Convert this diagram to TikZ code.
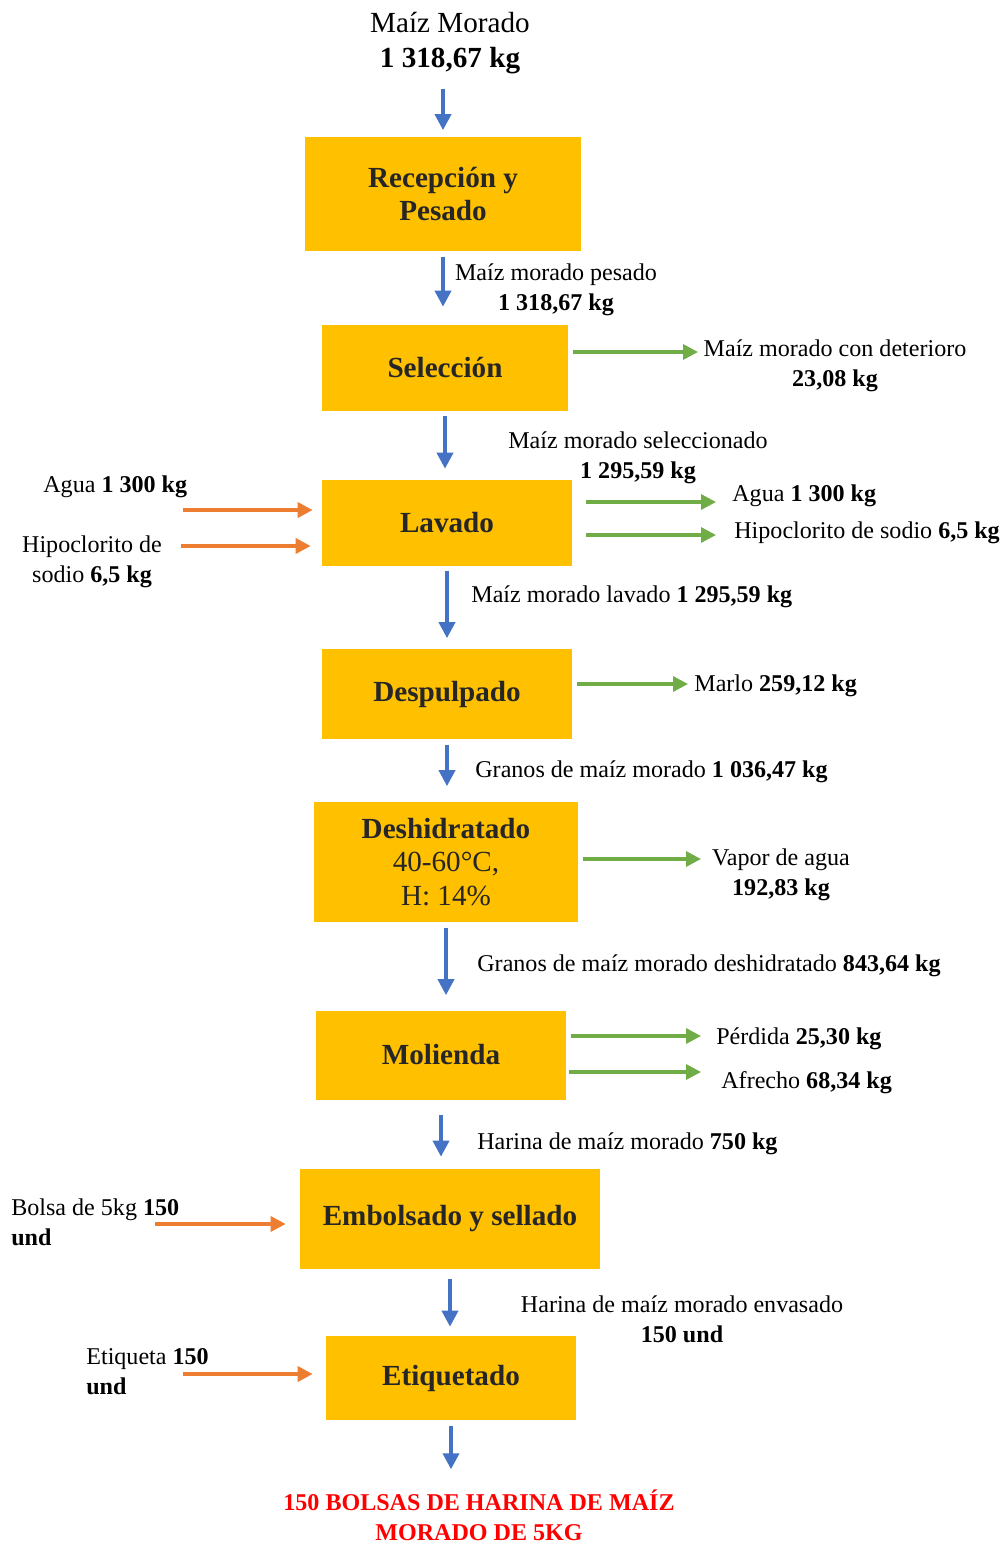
\documentclass[tikz,border=0pt]{standalone}
\usepackage{fontspec}
\setmainfont{Liberation Serif}
\usetikzlibrary{arrows.meta}
\definecolor{boxfill}{HTML}{FFC000}
\definecolor{boxtext}{HTML}{262626}
\definecolor{flowblue}{HTML}{4472C4}
\definecolor{inorange}{HTML}{ED7D31}
\definecolor{outgreen}{HTML}{70AD47}
\definecolor{prodred}{HTML}{FF0000}
\tikzset{
  stage/.style={fill=boxfill, text=boxtext, inner sep=0pt, align=center,
    font=\bfseries\fontsize{16.6}{19}\selectfont},
  lbl/.style={inner sep=0pt, align=center, yshift=-0.06cm, font=\fontsize{13.7}{17}\selectfont},
  mainflow/.style={flowblue, line width=2.1pt, -{Triangle[length=0.32cm,width=0.32cm]}},
  inflow/.style={inorange, line width=2pt, -{Triangle[length=0.3cm,width=0.3cm]}},
  outflow/.style={outgreen, line width=1.9pt, -{Triangle[length=0.3cm,width=0.3cm]}}
}
\begin{document}
\begin{tikzpicture}[x=0.02cm, y=-0.02cm]
    \useasboundingbox (0,0) rectangle (1003,1544);

    % 1. Process stages
    \node[stage, minimum width=5.52cm, minimum height=2.3cm] (rec) at (443,194) {Recepción y\\Pesado};
    \node[stage, minimum width=4.92cm, minimum height=1.72cm] (sel) at (445,368) {Selección};
    \node[stage, minimum width=5cm, minimum height=1.72cm] (lav) at (447,523) {Lavado};
    \node[stage, minimum width=5cm, minimum height=1.82cm] (desp) at (447,694) {Despulpado};
    \node[stage, minimum width=5.28cm, minimum height=2.42cm] (desh) at (446,862)
        {Deshidratado\\\mdseries 40-60°C,\\\mdseries H: 14\%};
    \node[stage, minimum width=5cm, minimum height=1.78cm] (mol) at (441,1055) {Molienda};
    \node[stage, minimum width=6cm, minimum height=2cm] (emb) at (450,1219) {Embolsado y sellado};
    \node[stage, minimum width=5cm, minimum height=1.68cm] (eti) at (451,1378) {Etiquetado};

    % 2. Raw material and final product
    \node[lbl, font=\fontsize{16.6}{19.5}\selectfont] (src) at (450,40) {Maíz Morado\\\textbf{1 318,67 kg}};
    \node[lbl, font=\bfseries\fontsize{13.7}{17}\selectfont, text=prodred] (prod) at (479,1512)
        {150 BOLSAS DE HARINA DE MAÍZ\\MORADO DE 5KG};

    % 3. Main flow (blue)
    \draw[mainflow, shorten <=0.3cm, shorten >=0.12cm] (src.south -| rec.north) -- (rec.north);
    \draw[mainflow, shorten <=0.1cm, shorten >=0.36cm] (rec.south) -- (rec.south |- sel.north);
    \draw[mainflow, shorten <=0.1cm, shorten >=0.22cm] (sel.south) -- (sel.south |- lav.north);
    \draw[mainflow, shorten <=0.1cm, shorten >=0.2cm] (lav.south) -- (lav.south |- desp.north);
    \draw[mainflow, shorten <=0.1cm, shorten >=0.3cm] (desp.south) -- (desp.south |- desh.north);
    \draw[mainflow, shorten <=0.1cm, shorten >=0.3cm] (desh.south) -- (desh.south |- mol.north);
    \draw[mainflow, shorten <=0.3cm, shorten >=0.24cm] (mol.south) -- (mol.south |- emb.north);
    \draw[mainflow, shorten <=0.2cm, shorten >=0.18cm] (emb.south) -- (emb.south |- eti.north);
    \draw[mainflow, shorten <=0.12cm, shorten >=0.4cm] (eti.south) -- (eti.south |- prod.north);

    % 4. Labels on the main flow
    \node[lbl] (pesado) at (556,287) {Maíz morado pesado\\\textbf{1 318,67 kg}};
    \node[lbl] (selec) at (638,455) {Maíz morado seleccionado\\\textbf{1 295,59 kg}};
    \node[lbl, anchor=west] (lavd) at (471,594) {Maíz morado lavado \textbf{1 295,59 kg}};
    \node[lbl, anchor=west] (granos) at (475,769) {Granos de maíz morado \textbf{1 036,47 kg}};
    \node[lbl, anchor=west] (granosdesh) at (477,963) {Granos de maíz morado deshidratado \textbf{843,64 kg}};
    \node[lbl, anchor=west] (harina) at (477,1141) {Harina de maíz morado \textbf{750 kg}};
    \node[lbl] (envasado) at (682,1316) {Harina de maíz morado envasado\\\textbf{150 und}};

    % 5. Inputs (orange)
    \node[lbl, anchor=west] (aguain) at (43,484) {Agua \textbf{1 300 kg}};
    \node[lbl] (hipoin) at (92,559) {Hipoclorito de\\sodio \textbf{6,5 kg}};
    \node[lbl, anchor=west, align=left] (bolsa) at (11,1219) {Bolsa de 5kg \textbf{150}\\\textbf{und}};
    \node[lbl, anchor=west, align=left] (etiq) at (86,1369) {Etiqueta \textbf{150}\\\textbf{und}};
    \coordinate (aguaStart) at (183,510);
    \coordinate (hipoStart) at (181,546);
    \coordinate (bolsaStart) at (155,1224);
    \coordinate (etiqStart) at (183,1374);
    \draw[inflow, shorten >=0.18cm] (aguaStart) -- (aguaStart -| lav.west);
    \draw[inflow, shorten >=0.22cm] (hipoStart) -- (hipoStart -| lav.west);
    \draw[inflow, shorten >=0.28cm] (bolsaStart) -- (bolsaStart -| emb.west);
    \draw[inflow, shorten >=0.26cm] (etiqStart) -- (etiqStart -| eti.west);

    % 6. Outputs (green)
    \node[lbl] (deter) at (835,363) {Maíz morado con deterioro\\\textbf{23,08 kg}};
    \node[lbl, anchor=west] (aguaout) at (732,493) {Agua \textbf{1 300 kg}};
    \node[lbl, anchor=west] (hipoout) at (734,530) {Hipoclorito de sodio \textbf{6,5 kg}};
    \node[lbl, anchor=west] (marlo) at (694,683) {Marlo \textbf{259,12 kg}};
    \node[lbl] (vapor) at (781,872) {Vapor de agua\\\textbf{192,83 kg}};
    \node[lbl, anchor=west] (perdida) at (716,1036) {Pérdida \textbf{25,30 kg}};
    \node[lbl, anchor=west] (afrecho) at (721,1080) {Afrecho \textbf{68,34 kg}};
    \coordinate (deterEnd) at (698,352);
    \coordinate (aguaEnd) at (716,502);
    \coordinate (hipoEnd) at (716,535);
    \coordinate (marloEnd) at (688,684);
    \coordinate (vaporEnd) at (701,859);
    \coordinate (perdidaEnd) at (701,1036);
    \coordinate (afrechoEnd) at (701,1072);
    \draw[outflow, shorten <=0.1cm] (sel.east |- deterEnd) -- (deterEnd);
    \draw[outflow, shorten <=0.28cm] (lav.east |- aguaEnd) -- (aguaEnd);
    \draw[outflow, shorten <=0.28cm] (lav.east |- hipoEnd) -- (hipoEnd);
    \draw[outflow, shorten <=0.1cm] (desp.east |- marloEnd) -- (marloEnd);
    \draw[outflow, shorten <=0.1cm] (desh.east |- vaporEnd) -- (vaporEnd);
    \draw[outflow, shorten <=0.1cm] (mol.east |- perdidaEnd) -- (perdidaEnd);
    \draw[outflow, shorten <=0.06cm] (mol.east |- afrechoEnd) -- (afrechoEnd);
\end{tikzpicture}
\end{document}
